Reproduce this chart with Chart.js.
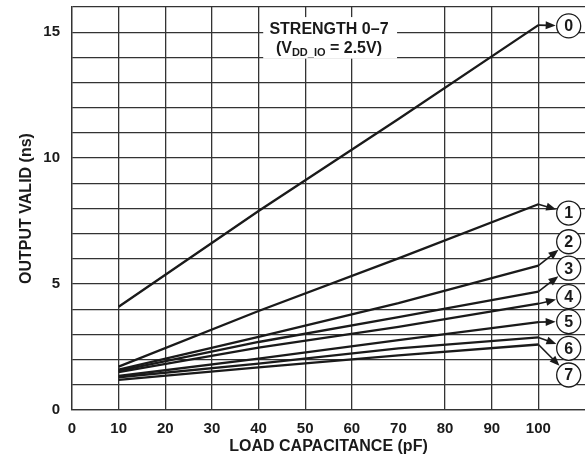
<!DOCTYPE html>
<html>
<head>
<meta charset="utf-8">
<script src="https://cdn.jsdelivr.net/npm/chart.js@4.4.1/dist/chart.umd.min.js"></script>
<style>
  html, body { margin: 0; padding: 0; background: #fff; }
</style>
</head>
<body>
<canvas id="chart" width="585" height="461"></canvas>
<script>
// load capacitance (pF) where each curve was read
const capacitance = [10, 40, 70, 100];

// output valid (ns) for drive strength 0..7
const strength0 = [4.1, 7.9, 11.55, 15.28];
const strength1 = [1.72, 3.93, 6.02, 8.17];
const strength2 = [1.6, 2.9, 4.24, 5.73];
const strength3 = [1.55, 2.7, 3.69, 4.7];
const strength4 = [1.5, 2.48, 3.3, 4.22];
const strength5 = [1.35, 2.04, 2.77, 3.49];
const strength6 = [1.3, 1.84, 2.45, 2.88];
const strength7 = [1.2, 1.69, 2.17, 2.6];

const seriesNames = ["0", "1", "2", "3", "4", "5", "6", "7"];
const seriesValues = [strength0, strength1, strength2, strength3, strength4, strength5, strength6, strength7];

// where the circled numbers sit (pF, ns)
const labelX = 106.5;
const labelY = [15.25, 7.82, 6.68, 5.63, 4.5, 3.51, 2.45, 1.39];

const X_MAX = 110;
const Y_MAX = 16;
const INK = "#1a1a1a";
const GRID = "#333";
const FONT = "'Liberation Sans', Arial, sans-serif";

function drawArrow(ctx, x0, y0, x1, y1) {
  const ang = Math.atan2(y1 - y0, x1 - x0);
  const len = 10, half = 4;
  const cos = Math.cos(ang), sin = Math.sin(ang);
  ctx.beginPath();
  ctx.moveTo(x0, y0);
  ctx.lineTo(x1 - len * 0.7 * cos, y1 - len * 0.7 * sin);
  ctx.stroke();
  ctx.beginPath();
  ctx.moveTo(x1, y1);
  ctx.lineTo(x1 - len * cos + half * sin, y1 - len * sin - half * cos);
  ctx.lineTo(x1 - len * cos - half * sin, y1 - len * sin + half * cos);
  ctx.closePath();
  ctx.fill();
}

const annotations = {
  id: "annotations",
  beforeDatasetsDraw(chart) {
    const { ctx } = chart;
    const x = chart.scales.x, y = chart.scales.y;
    ctx.save();
    // white box over the grid for the caption
    const bx0 = x.getPixelForValue(41), bx1 = x.getPixelForValue(69.7);
    const by0 = y.getPixelForValue(15.6), by1 = y.getPixelForValue(13.95);
    ctx.fillStyle = "#fff";
    ctx.fillRect(bx0, by0, bx1 - bx0, by1 - by0);

    const cx = x.getPixelForValue(55.1);
    ctx.fillStyle = INK;
    ctx.textBaseline = "middle";
    ctx.textAlign = "center";
    ctx.font = "bold 16px " + FONT;
    ctx.fillText("STRENGTH 0\u20137", cx, y.getPixelForValue(15.09));

    // second line with subscript
    const ly = y.getPixelForValue(14.33);
    const big = "bold 16px " + FONT, small = "bold 11px " + FONT;
    const parts = [["(V", big, 0], ["DD_IO", small, 4], [" = 2.5V)", big, 0]];
    let total = 0;
    parts.forEach((p) => { ctx.font = p[1]; total += ctx.measureText(p[0]).width; });
    let px = cx - total / 2;
    ctx.textAlign = "left";
    parts.forEach((p) => {
      ctx.font = p[1];
      ctx.fillText(p[0], px, ly + p[2]);
      px += ctx.measureText(p[0]).width;
    });
    ctx.restore();
  },
  afterDatasetsDraw(chart) {
    const { ctx } = chart;
    const x = chart.scales.x, y = chart.scales.y;
    const r = 12;
    ctx.save();
    ctx.strokeStyle = INK;
    ctx.fillStyle = INK;
    seriesValues.forEach((vals, i) => {
      const ex = x.getPixelForValue(capacitance[capacitance.length - 1]);
      const ey = y.getPixelForValue(vals[vals.length - 1]);
      const cx = x.getPixelForValue(labelX);
      const cy = y.getPixelForValue(labelY[i]);
      const d = Math.hypot(cx - ex, cy - ey);
      const tx = cx - (cx - ex) * (r + 1) / d;
      const ty = cy - (cy - ey) * (r + 1) / d;
      ctx.lineWidth = 1.6;
      drawArrow(ctx, ex, ey, tx, ty);

      ctx.beginPath();
      ctx.lineWidth = 1.3;
      ctx.arc(cx, cy, r, 0, Math.PI * 2);
      ctx.fillStyle = "#fff";
      ctx.fill();
      ctx.stroke();
      ctx.fillStyle = INK;
      ctx.font = "bold 16px " + FONT;
      ctx.textAlign = "center";
      ctx.textBaseline = "middle";
      ctx.fillText(seriesNames[i], cx, cy + 1);
    });
    ctx.restore();
  },
};

const ctx = document.getElementById("chart").getContext("2d");
const chart = new Chart(ctx, {
  type: "line",
  data: {
    datasets: seriesValues.map((vals, i) => ({
      label: seriesNames[i],
      data: capacitance.map((c, j) => ({ x: c, y: vals[j] })),
      borderColor: INK,
      borderWidth: 2.3,
      pointRadius: 0,
      fill: false,
      tension: 0,
    })),
  },
  options: {
    responsive: false,
    animation: false,
    layout: { padding: { top: 7, left: 0, right: 0, bottom: 0 } },
    plugins: {
      legend: { display: false },
      tooltip: { enabled: false },
    },
    scales: {
      x: {
        type: "linear",
        min: 0,
        max: X_MAX,
        afterFit: (scale) => {
          scale.height = 51;
          scale.paddingLeft = 0;
          scale.paddingRight = 0;
        },
        ticks: {
          stepSize: 10,
          padding: 10,
          color: INK,
          font: { family: FONT, size: 15, weight: "bold" },
          callback: (v) => (v <= 100 ? v : ""),
        },
        grid: {
          drawTicks: false,
          lineWidth: 1.3,
          color: (c) => (c.tick && (c.tick.value === 70 || c.tick.value === X_MAX) ? "rgba(0,0,0,0)" : GRID),
        },
        border: { display: true, color: GRID, width: 1.3 },
        title: {
          display: true,
          text: "LOAD CAPACITANCE (pF)",
          color: INK,
          font: { family: FONT, size: 16, weight: "bold" },
          padding: { top: 0, bottom: 5 },
        },
      },
      y: {
        min: 0,
        max: Y_MAX,
        afterFit: (scale) => {
          scale.width = 72;
          scale.paddingTop = 0;
          scale.paddingBottom = 0;
        },
        ticks: {
          stepSize: 1,
          autoSkip: false,
          padding: 12,
          color: INK,
          font: { family: FONT, size: 15, weight: "bold" },
          callback: (v) => (v % 5 === 0 ? v : ""),
        },
        grid: { drawTicks: false, lineWidth: 1.3, color: GRID },
        border: { display: true, color: GRID, width: 1.3 },
        title: {
          display: true,
          text: "OUTPUT VALID (ns)",
          color: INK,
          font: { family: FONT, size: 16, weight: "bold" },
          padding: { top: 17, bottom: 0 },
        },
      },
    },
  },
  plugins: [annotations],
});
</script>
</body>
</html>
